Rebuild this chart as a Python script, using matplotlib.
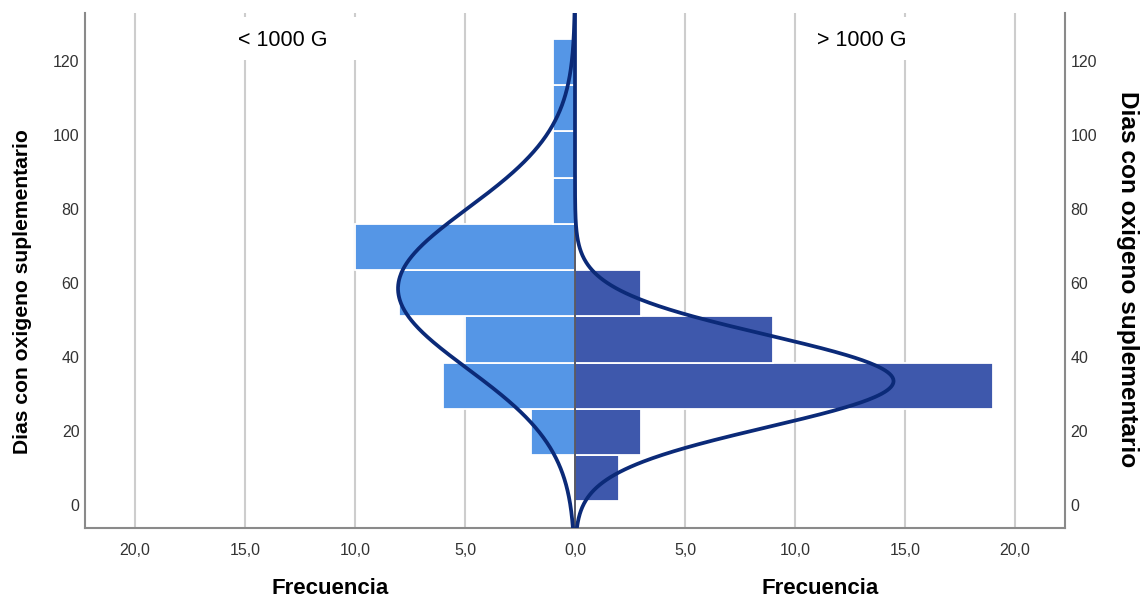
import numpy as np
import matplotlib
matplotlib.use("Agg")
import matplotlib.pyplot as plt
from matplotlib.patches import Rectangle
from matplotlib.ticker import FuncFormatter

plt.rcParams['font.family'] = ['Liberation Sans', 'DejaVu Sans']

# ---- data ----
bin_edges = [1.0, 13.5, 26.0, 38.5, 51.0, 63.5, 76.0, 88.5, 101.0, 113.5, 126.0]
counts_low = [0, 2, 6, 5, 8, 10, 1, 1, 1, 1]      # < 1000 G (left)
counts_high = [2, 3, 19, 9, 3, 0, 0, 0, 0, 0]     # > 1000 G (right)
group_labels = ["< 1000 G", "> 1000 G"]
mean_low, sd_low = 58.5, 21.7
mean_high, sd_high = 33.5, 12.4
x_ticks = [-20, -15, -10, -5, 0, 5, 10, 15, 20]
y_ticks = [0, 20, 40, 60, 80, 100, 120]
y_label = "Dias con oxigeno suplementario"
x_label = "Frecuencia"

# ---- style ----
c_low = '#5596E6'
c_high = '#3E58AC'
c_curve = '#0B2A78'
c_grid = '#CDCDCD'
c_spine = '#8A8A8A'

edges = np.array(bin_edges)
centers = (edges[:-1] + edges[1:]) / 2
width = edges[1] - edges[0]

fig = plt.figure(figsize=(11.41, 6.0), dpi=100)
ax = fig.add_axes([85/1141, 1-527.7/600, (1065-85)/1141, (527.7-13.3)/600])

xmax = 22.27
ax.set_xlim(-xmax, xmax)
ax.set_ylim(-6.13, 132.9)

for xt in x_ticks:
    if xt != 0:
        ax.axvline(xt, color=c_grid, lw=1.5, zorder=0)

ax.barh(centers, -np.array(counts_low), height=width, color=c_low,
        edgecolor='white', linewidth=1.3, zorder=2)
ax.barh(centers, np.array(counts_high), height=width, color=c_high,
        edgecolor='white', linewidth=1.3, zorder=2)
ax.axvline(0, color='#2E2E3A', lw=1.1, zorder=3)

yy = np.linspace(-6.13, 132.9, 600)
def normal_curve(mu, sd, n):
    return n * width * np.exp(-0.5 * ((yy - mu) / sd) ** 2) / (sd * np.sqrt(2 * np.pi))
ax.plot(-normal_curve(mean_low, sd_low, sum(counts_low)), yy, color=c_curve, lw=2.7, zorder=4)
ax.plot(normal_curve(mean_high, sd_high, sum(counts_high)), yy, color=c_curve, lw=2.7, zorder=4)

# label boxes
ax.add_patch(Rectangle((-15.6, 120.3), 6.2, 11.6, facecolor='white', edgecolor='none', zorder=1))
ax.add_patch(Rectangle((10.9, 120.3), 4.4, 11.6, facecolor='white', edgecolor='none', zorder=1))
ax.text(-13.3, 125.6, group_labels[0], ha='center', va='center', fontsize=15.5, zorder=5)
ax.text(13.05, 125.6, group_labels[1], ha='center', va='center', fontsize=15.5, zorder=5)

ax.set_xticks(x_ticks)
ax.xaxis.set_major_formatter(FuncFormatter(lambda v, p: f"{abs(v):.1f}".replace('.', ',')))
ax.set_yticks(y_ticks)
ax.tick_params(axis='x', length=0, pad=11, labelsize=11.5, labelcolor='#333333')
ax.tick_params(axis='y', length=0, pad=4, labelsize=11.5, labelcolor='#333333',
               left=True, right=True, labelleft=True, labelright=True)

for s in ['left', 'right', 'bottom']:
    ax.spines[s].set_color(c_spine)
    ax.spines[s].set_linewidth(1.5)
ax.spines['top'].set_visible(False)

fig.text(330/1141, 1-589/600, x_label, ha='center', va='center', fontsize=16, fontweight='bold')
fig.text(820/1141, 1-589/600, x_label, ha='center', va='center', fontsize=16, fontweight='bold')
fig.text(23/1141, 1-292/600, y_label, ha='center', va='center', rotation=90, fontsize=15.2, fontweight='bold')
fig.text(1128/1141, 1-279/600, y_label, ha='center', va='center', rotation=270, fontsize=17.6, fontweight='bold')

fig.savefig('out.png', dpi=100)
